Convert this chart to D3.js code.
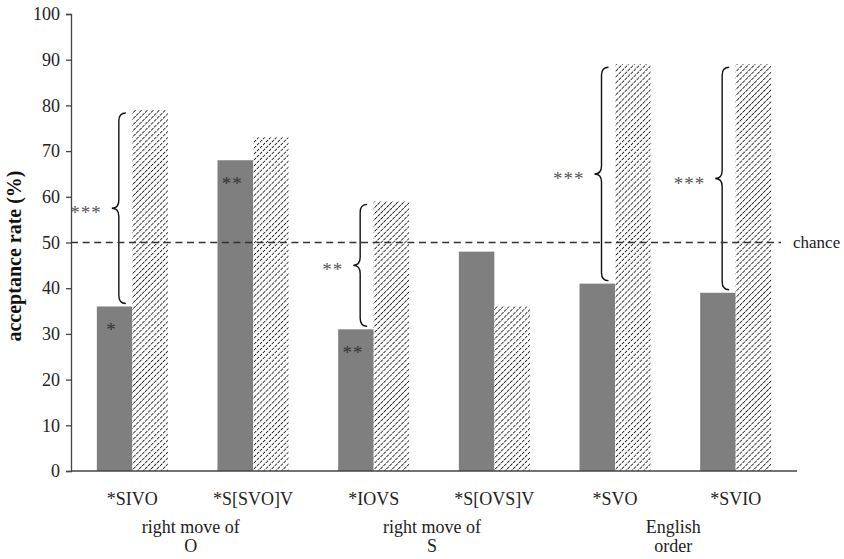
<!DOCTYPE html>
<html lang="en">
<head>
<meta charset="UTF-8">
<title>acceptance rate</title>
<script src="https://cdn.jsdelivr.net/npm/d3@7"></script>
<style>
    body { margin: 0; background: #fff; }
    svg { display: block; font-family: "Liberation Serif", "Times New Roman", serif; }
</style>
</head>
<body>
<div id="chart"></div>
<script>
// data
const categories = ["*SIVO", "*S[SVO]V", "*IOVS", "*S[OVS]V", "*SVO", "*SVIO"];
const solidValues = [36, 68, 31, 48, 41, 39];     // grey bars
const hatchedValues = [79, 73, 59, 36, 89, 89];   // hatched bars
const solidStars = ["*", "**", "**", "", "", ""];  // marks inside grey bars
const diffStars = ["***", "", "**", "", "***", "***"]; // marks next to the braces
const groupLabels = [["right move of", "O"], ["right move of", "S"], ["English", "order"]];
const yTicks = [0, 10, 20, 30, 40, 50, 60, 70, 80, 90, 100];
const chanceLevel = 50;

const width = 844, height = 559;

const svg = d3.select("#chart").append("svg")
    .attr("width", width)
    .attr("height", height);

// hatch pattern
const defs = svg.append("defs");
const pat = defs.append("pattern")
    .attr("id", "hatch")
    .attr("patternUnits", "userSpaceOnUse")
    .attr("width", 4.2)
    .attr("height", 4.2)
    .attr("patternTransform", "rotate(45)");
pat.append("rect").attr("width", 4.2).attr("height", 4.2).attr("fill", "#fff");
pat.append("line")
    .attr("x1", 0).attr("y1", 0).attr("x2", 0).attr("y2", 4.2)
    .attr("stroke", "#222")
    .attr("stroke-width", 1.7)
    .attr("stroke-dasharray", "3.4,0.8");

const y = d3.scaleLinear().domain([0, 100]).range([471, 14]);
const x0 = d3.scaleBand().domain(categories).range([72, 796]);
const x1 = d3.scaleBand().domain(["solid", "hatched"]).range([-35.5, 35.5]);
const cx = c => x0(c) + x0.bandwidth() / 2;

// y axis
const yAxis = d3.axisLeft(y).tickValues(yTicks).tickSize(5).tickPadding(6);
const gy = svg.append("g").attr("transform", "translate(71,0)").call(yAxis);
gy.select(".domain").attr("stroke", "#444").attr("stroke-width", 1.3);
gy.selectAll(".tick line").attr("stroke", "#444").attr("stroke-width", 1.3);
gy.selectAll(".tick text")
    .attr("font-family", "Liberation Serif, serif")
    .attr("font-size", 18)
    .attr("fill", "#222");

svg.append("text")
    .attr("transform", "translate(21,256) rotate(-90)")
    .attr("text-anchor", "middle")
    .attr("font-size", 20)
    .attr("font-weight", "bold")
    .attr("fill", "#111")
    .text("acceptance rate (%)");

// bars
const groups = svg.append("g").selectAll("g")
    .data(categories)
    .join("g")
    .attr("transform", c => "translate(" + cx(c) + ",0)");

groups.append("rect")
    .attr("x", x1("solid"))
    .attr("width", x1.bandwidth())
    .attr("y", (c, i) => y(solidValues[i]))
    .attr("height", (c, i) => y(0) - y(solidValues[i]))
    .attr("fill", "#7f7f7f");

groups.append("rect")
    .attr("x", x1("hatched"))
    .attr("width", x1.bandwidth())
    .attr("y", (c, i) => y(hatchedValues[i]))
    .attr("height", (c, i) => y(0) - y(hatchedValues[i]))
    .attr("fill", "url(#hatch)");

// stars inside grey bars
groups.append("text")
    .attr("x", x1("solid") + x1.bandwidth() / 2 - 3)
    .attr("y", (c, i) => y(solidValues[i]) + 30)
    .attr("text-anchor", "middle")
    .attr("font-size", 19)
    .attr("letter-spacing", 1)
    .attr("fill", "#333")
    .text((c, i) => solidStars[i]);

// x axis line
svg.append("line")
    .attr("x1", 71).attr("x2", 797)
    .attr("y1", y(0)).attr("y2", y(0))
    .attr("stroke", "#444")
    .attr("stroke-width", 1.5);

// chance line
svg.append("line")
    .attr("x1", 71).attr("x2", 781)
    .attr("y1", y(chanceLevel)).attr("y2", y(chanceLevel))
    .attr("stroke", "#333")
    .attr("stroke-width", 1.6)
    .attr("stroke-dasharray", "7,4.6");

svg.append("text")
    .attr("x", 793)
    .attr("y", y(chanceLevel) + 5)
    .attr("font-size", 17)
    .attr("fill", "#222")
    .text("chance");

// curly braces between the two bars of a group
function bracePath(xTip, xBody, xEnd, yTop, yBot) {
    const ym = (yTop + yBot) / 2, r = 8;
    return "M" + xEnd + "," + yTop +
        "Q" + xBody + "," + yTop + " " + xBody + "," + (yTop + r) +
        "L" + xBody + "," + (ym - r) +
        "Q" + xBody + "," + ym + " " + xTip + "," + ym +
        "Q" + xBody + "," + ym + " " + xBody + "," + (ym + r) +
        "L" + xBody + "," + (yBot - r) +
        "Q" + xBody + "," + yBot + " " + xEnd + "," + yBot;
}

const braced = groups.filter((c, i) => diffStars[i] !== "");

braced.append("path")
    .attr("d", c => {
        const i = categories.indexOf(c);
        const left = x1("solid");
        return bracePath(left + 15, left + 22, left + 29,
            y(hatchedValues[i]) + 3, y(solidValues[i]) - 3);
    })
    .attr("fill", "none")
    .attr("stroke", "#111")
    .attr("stroke-width", 1.4);

braced.append("text")
    .attr("x", x1("solid") + 5)
    .attr("y", c => {
        const i = categories.indexOf(c);
        return (y(hatchedValues[i]) + y(solidValues[i])) / 2 + 11;
    })
    .attr("text-anchor", "end")
    .attr("font-size", 19)
    .attr("letter-spacing", 1)
    .attr("fill", "#555")
    .text(c => diffStars[categories.indexOf(c)]);

// category labels
svg.append("g").selectAll("text")
    .data(categories)
    .join("text")
    .attr("x", c => cx(c))
    .attr("y", 505)
    .attr("text-anchor", "middle")
    .attr("font-size", 18)
    .attr("fill", "#222")
    .text(c => c);

// group labels, centred between each pair of categories
const gl = svg.append("g").selectAll("text")
    .data(groupLabels)
    .join("text")
    .attr("text-anchor", "middle")
    .attr("font-size", 18)
    .attr("fill", "#222");

gl.selectAll("tspan")
    .data((d, i) => d.map(t => ({ t: t, i: i })))
    .join("tspan")
    .attr("x", d => (cx(categories[d.i * 2]) + cx(categories[d.i * 2 + 1])) / 2 - 2)
    .attr("y", (d, j) => 533 + j * 19)
    .text(d => d.t);
</script>
</body>
</html>
